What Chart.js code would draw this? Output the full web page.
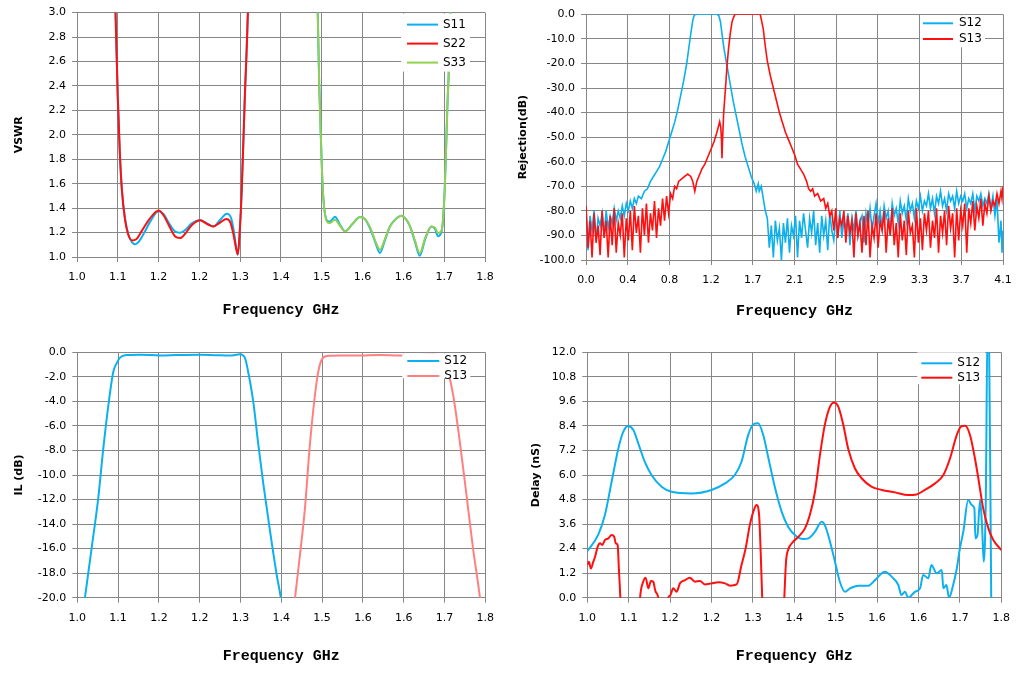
<!DOCTYPE html>
<html>
<head>
<meta charset="utf-8">
<script src="https://cdn.jsdelivr.net/npm/chart.js@4.4.1/dist/chart.umd.min.js"></script>
<style>
  html, body { margin: 0; padding: 0; background: #fff; }
  body { width: 1021px; height: 675px; position: relative; overflow: hidden; }
  canvas { position: absolute; }
</style>
</head>
<body>
<canvas id="vswr" width="505" height="320" style="left:0;top:0"></canvas>
<canvas id="rejection" width="516" height="322" style="left:505px;top:0"></canvas>
<canvas id="il" width="505" height="340" style="left:0;top:335px"></canvas>
<canvas id="delay" width="516" height="340" style="left:505px;top:335px"></canvas>
<script>
// ---- tick values and labels (labels are rounded the way the source sheet shows them)
const bandTicks = [1.0, 1.08, 1.16, 1.24, 1.32, 1.40, 1.48, 1.56, 1.64, 1.72, 1.80];
const bandTickLabels = ["1.0", "1.1", "1.2", "1.2", "1.3", "1.4", "1.5", "1.6", "1.6", "1.7", "1.8"];
const wideTicks = [0, 0.414, 0.828, 1.242, 1.656, 2.07, 2.484, 2.898, 3.312, 3.726, 4.14];
const wideTickLabels = ["0.0", "0.4", "0.8", "1.2", "1.7", "2.1", "2.5", "2.9", "3.3", "3.7", "4.1"];
const vswrTicks = [1.0, 1.2, 1.4, 1.6, 1.8, 2.0, 2.2, 2.4, 2.6, 2.8, 3.0];
const vswrTickLabels = ["1.0", "1.2", "1.4", "1.6", "1.8", "2.0", "2.2", "2.4", "2.6", "2.8", "3.0"];
const rejTicks = [-100, -90, -80, -70, -60, -50, -40, -30, -20, -10, 0];
const rejTickLabels = ["-100.0", "-90.0", "-80.0", "-70.0", "-60.0", "-50.0", "-40.0", "-30.0", "-20.0", "-10.0", "0.0"];
const ilTicks = [-20, -18, -16, -14, -12, -10, -8, -6, -4, -2, 0];
const ilTickLabels = ["-20.0", "-18.0", "-16.0", "-14.0", "-12.0", "-10.0", "-8.0", "-6.0", "-4.0", "-2.0", "0.0"];
const delayTicks = [0, 1.2, 2.4, 3.6, 4.8, 6.0, 7.2, 8.4, 9.6, 10.8, 12.0];
const delayTickLabels = ["0.0", "1.2", "2.4", "3.6", "4.8", "6.0", "7.2", "8.4", "9.6", "10.8", "12.0"];

// ---- VSWR  [GHz, VSWR]
const vswrS11 = [
  [1.068, 3.8], [1.0755, 3.0], [1.080, 2.3], [1.084, 1.85], [1.088, 1.55], [1.094, 1.32], [1.101, 1.18],
  [1.108, 1.12], [1.114, 1.105], [1.122, 1.13], [1.132, 1.20], [1.145, 1.30], [1.160, 1.376], [1.170, 1.35],
  [1.180, 1.28], [1.192, 1.21], [1.202, 1.198], [1.212, 1.22], [1.225, 1.275], [1.2415, 1.30], [1.255, 1.275],
  [1.2675, 1.25], [1.280, 1.30], [1.2938, 1.354], [1.302, 1.32], [1.308, 1.20], [1.312, 1.08], [1.3153, 1.02],
  [1.319, 1.20], [1.323, 1.55], [1.329, 2.30], [1.335, 3.0], [1.340, 4.0], [1.400, 8.0], [1.468, 4.0],
  [1.472, 3.0], [1.475, 2.4], [1.478, 2.0], [1.482, 1.55], [1.490, 1.30], [1.496, 1.29], [1.506, 1.33],
  [1.515, 1.27], [1.5255, 1.21], [1.540, 1.27], [1.555, 1.327], [1.5646, 1.31], [1.575, 1.23], [1.585, 1.12],
  [1.594, 1.033], [1.604, 1.14], [1.6136, 1.25], [1.625, 1.31], [1.636, 1.338], [1.645, 1.31], [1.653, 1.25],
  [1.663, 1.12], [1.672, 1.01], [1.683, 1.15], [1.695, 1.25], [1.702, 1.23], [1.708, 1.17], [1.715, 1.21],
  [1.721, 1.55], [1.726, 2.2], [1.7325, 3.0], [1.736, 4.0]
];
const vswrS22 = [
  [1.068, 3.8], [1.0755, 3.0], [1.080, 2.3], [1.084, 1.85], [1.088, 1.55], [1.094, 1.31], [1.100, 1.19],
  [1.1077, 1.136], [1.116, 1.145], [1.128, 1.22], [1.142, 1.31], [1.160, 1.381], [1.170, 1.34], [1.180, 1.26],
  [1.192, 1.17], [1.2023, 1.155], [1.212, 1.19], [1.225, 1.26], [1.2415, 1.30], [1.255, 1.27], [1.2675, 1.25],
  [1.280, 1.28], [1.293, 1.31], [1.301, 1.28], [1.307, 1.18], [1.312, 1.07], [1.3153, 1.02], [1.319, 1.20],
  [1.323, 1.55], [1.329, 2.30], [1.335, 3.0], [1.340, 4.0]
];
const vswrS33 = [
  [1.468, 4.0], [1.472, 3.0], [1.475, 2.4], [1.478, 2.0], [1.482, 1.55], [1.490, 1.29], [1.496, 1.278],
  [1.506, 1.305], [1.515, 1.26], [1.5255, 1.21], [1.540, 1.27], [1.555, 1.327], [1.5646, 1.31], [1.575, 1.24],
  [1.585, 1.13], [1.594, 1.06], [1.604, 1.15], [1.6136, 1.25], [1.625, 1.31], [1.636, 1.338], [1.645, 1.31],
  [1.653, 1.25], [1.663, 1.13], [1.672, 1.03], [1.683, 1.16], [1.695, 1.25], [1.702, 1.24], [1.708, 1.196],
  [1.715, 1.22], [1.721, 1.55], [1.726, 2.2], [1.7325, 3.0], [1.736, 4.0]
];

// ---- Rejection  [GHz, dB]
const rejS12 = [
  [0.00, -79], [0.02, -96], [0.04, -82], [0.06, -88], [0.08, -80], [0.10, -92], [0.12, -83], [0.14, -86],
  [0.16, -81], [0.18, -90], [0.20, -80], [0.22, -87], [0.24, -82], [0.26, -85], [0.28, -79], [0.30, -84],
  [0.32, -80], [0.34, -83], [0.36, -78], [0.38, -82], [0.40, -77], [0.42, -80], [0.44, -76], [0.46, -79],
  [0.48, -75], [0.50, -77], [0.52, -74], [0.55, -75], [0.58, -72], [0.61, -71], [0.64, -68], [0.67, -66],
  [0.70, -64], [0.73, -62], [0.76, -59], [0.79, -56], [0.82, -52], [0.85, -48], [0.88, -44], [0.91, -39],
  [0.94, -33], [0.97, -27], [1.00, -20], [1.02, -14], [1.04, -8], [1.06, -2.5], [1.075, -0.3], [1.10, 0],
  [1.20, 0], [1.30, 0], [1.318, -0.5], [1.335, -3], [1.35, -8], [1.37, -14], [1.40, -21], [1.43, -28],
  [1.46, -35], [1.49, -41], [1.52, -47], [1.55, -53], [1.58, -58], [1.61, -62], [1.64, -66], [1.67, -69],
  [1.69, -72], [1.71, -69], [1.72, -72], [1.74, -70], [1.76, -75], [1.78, -80],
  [1.80, -83], [1.82, -95], [1.84, -86], [1.86, -99], [1.88, -84], [1.90, -92], [1.92, -87], [1.94, -100],
  [1.96, -85], [1.98, -93], [2.00, -83], [2.02, -97], [2.04, -86], [2.06, -90], [2.08, -82], [2.10, -99],
  [2.12, -84], [2.14, -91], [2.16, -81], [2.18, -88], [2.20, -95], [2.22, -83], [2.24, -89], [2.26, -80],
  [2.28, -94], [2.30, -85], [2.32, -97], [2.34, -82], [2.36, -90], [2.38, -84], [2.40, -96], [2.42, -81],
  [2.44, -88], [2.46, -92], [2.48, -83], [2.50, -89], [2.52, -80], [2.54, -91], [2.56, -84], [2.58, -87],
  [2.60, -81], [2.62, -94], [2.64, -83], [2.66, -88], [2.68, -80], [2.70, -90], [2.72, -84], [2.74, -82],
  [2.76, -93], [2.78, -81], [2.80, -86], [2.82, -79], [2.84, -88], [2.86, -82], [2.88, -77], [2.90, -85],
  [2.92, -80], [2.94, -87], [2.96, -78], [2.98, -83], [3.00, -80], [3.02, -89], [3.04, -77], [3.06, -82],
  [3.08, -79], [3.10, -85], [3.12, -76], [3.14, -81], [3.16, -78], [3.18, -84], [3.20, -75], [3.22, -80],
  [3.24, -77], [3.26, -83], [3.28, -76], [3.30, -79], [3.32, -74], [3.34, -80], [3.36, -76], [3.38, -78],
  [3.40, -73], [3.42, -79], [3.44, -75], [3.46, -81], [3.48, -74], [3.50, -77], [3.52, -72], [3.54, -78],
  [3.56, -75], [3.58, -80], [3.60, -73], [3.62, -76], [3.64, -74], [3.66, -79], [3.68, -72], [3.70, -77],
  [3.72, -74], [3.74, -76], [3.76, -73], [3.78, -79], [3.80, -75], [3.82, -77], [3.84, -73], [3.86, -80],
  [3.88, -74], [3.90, -76], [3.92, -73], [3.94, -78], [3.96, -75], [3.98, -77], [4.00, -73], [4.02, -79],
  [4.04, -74], [4.06, -82], [4.08, -75], [4.10, -93], [4.12, -84], [4.13, -97], [4.14, -88]
];
const rejS13 = [
  [0.00, -78], [0.02, -95], [0.04, -84], [0.06, -99], [0.08, -81], [0.10, -93], [0.12, -86], [0.14, -98],
  [0.16, -80], [0.18, -91], [0.20, -84], [0.22, -99], [0.24, -82], [0.26, -94], [0.28, -79], [0.30, -97],
  [0.32, -85], [0.34, -90], [0.36, -81], [0.38, -99], [0.40, -83], [0.42, -92], [0.44, -80], [0.46, -96],
  [0.48, -78], [0.50, -89], [0.52, -82], [0.54, -97], [0.56, -79], [0.58, -90], [0.60, -77], [0.62, -93],
  [0.64, -81], [0.66, -88], [0.68, -76], [0.70, -91], [0.72, -79], [0.74, -86], [0.76, -75], [0.78, -84],
  [0.80, -74], [0.82, -81], [0.84, -73], [0.86, -75], [0.88, -70], [0.90, -71], [0.92, -68], [0.95, -67],
  [0.98, -66], [1.01, -65], [1.04, -66], [1.06, -68], [1.08, -72], [1.10, -68], [1.12, -66], [1.15, -63],
  [1.18, -61], [1.21, -58], [1.24, -55], [1.27, -52], [1.30, -48], [1.327, -43.7], [1.338, -46],
  [1.345, -51], [1.35, -58.6], [1.355, -52], [1.367, -40], [1.385, -30], [1.40, -21], [1.415, -14],
  [1.433, -7.7], [1.45, -3], [1.467, -1], [1.48, 0], [1.60, 0], [1.73, 0], [1.745, -3], [1.76, -6],
  [1.78, -13], [1.80, -19], [1.83, -25], [1.86, -30], [1.89, -35], [1.92, -40], [1.95, -44], [1.98, -48],
  [2.01, -51], [2.04, -54], [2.07, -57], [2.10, -61], [2.13, -63], [2.16, -65], [2.19, -68], [2.21, -71],
  [2.23, -72], [2.25, -71], [2.27, -74], [2.30, -73], [2.33, -76], [2.36, -75], [2.38, -79], [2.40, -77],
  [2.42, -82], [2.44, -80], [2.46, -88], [2.48, -79], [2.50, -91], [2.52, -83], [2.54, -86], [2.56, -80],
  [2.58, -93], [2.60, -82], [2.62, -89], [2.64, -84], [2.66, -99], [2.68, -81], [2.70, -90], [2.72, -85],
  [2.74, -97], [2.76, -82], [2.78, -94], [2.80, -80], [2.82, -99], [2.84, -86], [2.86, -91], [2.88, -81],
  [2.90, -95], [2.92, -84], [2.94, -88], [2.96, -80], [2.98, -97], [3.00, -83], [3.02, -90], [3.04, -79],
  [3.06, -94], [3.08, -85], [3.10, -99], [3.12, -81], [3.14, -92], [3.16, -84], [3.18, -98], [3.20, -80],
  [3.22, -89], [3.24, -86], [3.26, -99], [3.28, -79], [3.30, -93], [3.32, -83], [3.34, -96], [3.36, -81],
  [3.38, -88], [3.40, -80], [3.42, -95], [3.44, -84], [3.46, -91], [3.48, -79], [3.50, -97], [3.52, -82],
  [3.54, -89], [3.56, -80], [3.58, -94], [3.60, -78], [3.62, -87], [3.64, -81], [3.66, -99], [3.68, -79],
  [3.70, -92], [3.72, -80], [3.74, -86], [3.76, -77], [3.78, -97], [3.80, -79], [3.82, -85], [3.84, -76],
  [3.86, -88], [3.88, -78], [3.90, -83], [3.92, -75], [3.94, -86], [3.96, -77], [3.98, -81], [4.00, -74],
  [4.02, -80], [4.04, -76], [4.06, -78], [4.08, -73], [4.10, -77], [4.12, -72], [4.13, -75], [4.14, -70]
];

// ---- Insertion loss  [GHz, dB]
const ilS12 = [
  [1.012, -21], [1.015, -20.0], [1.028, -16.0], [1.041, -11.9], [1.051, -7.83], [1.061, -4.29],
  [1.0706, -1.58], [1.077, -0.90], [1.0837, -0.43], [1.0967, -0.22], [1.123, -0.19], [1.162, -0.27],
  [1.195, -0.22], [1.2405, -0.19], [1.273, -0.24], [1.2993, -0.27], [1.319, -0.16], [1.329, -0.49],
  [1.335, -1.58], [1.345, -4.02], [1.355, -7.55], [1.365, -10.8], [1.378, -14.6], [1.391, -18.15],
  [1.399, -20.0], [1.402, -21]
];
const ilS13 = [
  [1.424, -21], [1.427, -20.0], [1.4366, -16.5], [1.4464, -12.7], [1.456, -7.55], [1.466, -3.48],
  [1.4725, -1.58], [1.479, -0.63], [1.489, -0.30], [1.515, -0.27], [1.554, -0.27], [1.5935, -0.22],
  [1.6327, -0.27], [1.6654, -0.22], [1.698, -0.16], [1.7176, -0.49], [1.727, -1.58], [1.737, -3.48],
  [1.750, -7.28], [1.763, -11.6], [1.776, -16.0], [1.7895, -20.0], [1.792, -21]
];

// ---- Group delay  [GHz, nS]
const delayS12 = [
  [1.0, 2.28], [1.021, 3.07], [1.034, 4.04], [1.047, 5.67], [1.060, 7.30], [1.0696, 8.12], [1.079, 8.40],
  [1.089, 8.20], [1.0985, 7.55], [1.111, 6.65], [1.124, 6.0], [1.1436, 5.43], [1.163, 5.18], [1.2016, 5.10],
  [1.240, 5.27], [1.266, 5.59], [1.285, 6.0], [1.298, 6.65], [1.311, 7.96], [1.321, 8.48], [1.330, 8.53],
  [1.340, 7.96], [1.350, 6.82], [1.363, 5.35], [1.3755, 4.21], [1.388, 3.47], [1.401, 3.07], [1.417, 2.87],
  [1.427, 2.90], [1.440, 3.23], [1.453, 3.72], [1.459, 3.55], [1.469, 2.74], [1.4786, 1.76], [1.488, 0.78],
  [1.498, 0.29], [1.5076, 0.46], [1.524, 0.59], [1.543, 0.59], [1.556, 0.86], [1.575, 1.27], [1.588, 1.03],
  [1.601, 0.62], [1.607, 0.13], [1.614, 0.29], [1.620, 0.0], [1.633, 0.29], [1.643, 0.46], [1.649, 1.11],
  [1.659, 0.95], [1.665, 1.60], [1.675, 1.19], [1.685, 1.35], [1.688, 0.46], [1.694, 0.62], [1.699, 0.0],
  [1.707, 0.62], [1.714, 1.43], [1.720, 2.41], [1.7266, 3.23], [1.736, 4.78], [1.743, 4.53], [1.748, 4.37],
  [1.750, 2.90], [1.754, 3.07], [1.759, 4.78], [1.763, 3.39], [1.766, 1.76], [1.770, 4.7], [1.7735, 13.5],
  [1.776, 13.5], [1.7805, 0.0], [1.782, -1]
];
const delayS13 = [
  [1.0, 1.60], [1.003, 1.76], [1.007, 1.43], [1.0116, 1.76], [1.015, 2.0], [1.020, 2.49], [1.0245, 2.66],
  [1.029, 2.58], [1.034, 2.82], [1.0406, 2.90], [1.047, 3.07], [1.052, 2.98], [1.055, 2.66], [1.0586, 2.58],
  [1.061, 1.43], [1.0638, 0.0], [1.065, -1], [1.100, -1], [1.102, 0.0], [1.108, 0.78], [1.1127, 0.98],
  [1.118, 0.46], [1.123, 0.82], [1.1275, 0.78], [1.132, 0.29], [1.137, 0.0], [1.139, -1], [1.154, -1],
  [1.1565, 0.0], [1.160, 0.1], [1.166, 0.46], [1.1726, 0.29], [1.179, 0.70], [1.189, 0.86], [1.198, 0.98],
  [1.208, 0.78], [1.2177, 0.82], [1.227, 0.65], [1.240, 0.70], [1.253, 0.75], [1.266, 0.70], [1.2757, 0.59],
  [1.2886, 0.65], [1.298, 1.60], [1.306, 2.41], [1.314, 3.55], [1.323, 4.37], [1.327, 4.53], [1.332, 4.04],
  [1.335, 2.25], [1.338, 0.0], [1.339, -1], [1.379, -1], [1.3807, 0.0], [1.384, 1.76], [1.388, 2.33],
  [1.398, 2.74], [1.408, 2.98], [1.4206, 3.39], [1.430, 4.04], [1.440, 5.18], [1.4496, 6.98], [1.459, 8.45],
  [1.469, 9.34], [1.477, 9.54], [1.485, 9.34], [1.4947, 8.45], [1.504, 7.30], [1.517, 6.33], [1.530, 5.84],
  [1.549, 5.43], [1.569, 5.27], [1.5945, 5.15], [1.620, 5.02], [1.636, 5.05], [1.6525, 5.27], [1.672, 5.59],
  [1.688, 6.0], [1.701, 6.82], [1.714, 7.96], [1.722, 8.36], [1.730, 8.41], [1.7395, 7.96], [1.749, 6.82],
  [1.7556, 5.84], [1.765, 4.37], [1.775, 3.39], [1.7846, 2.82], [1.800, 2.33]
];

const BLUE = "#0cb0ee";
const RED = "#ff0f0f";
const GREEN = "#92d050";
const ROSE = "#ff8080";
const GRID = "#868686";
const tickFont = { family: "DejaVu Sans", size: 11 };
const yTitleFont = { family: "DejaVu Sans", size: 11, weight: "bold" };
const xTitleFont = { family: "Liberation Mono", size: 15, weight: "bold" };

// legend drawn inside the plot, white box on top of the grid
const boxLegend = {
  id: "boxLegend",
  afterDatasetsDraw(chart, args, o) {
    const { ctx, chartArea: a } = chart;
    ctx.save();
    ctx.fillStyle = "#fff";
    ctx.fillRect(a.right + o.box[0], a.top + o.box[1], o.box[2] - o.box[0], o.box[3] - o.box[1]);
    ctx.font = "12px 'DejaVu Sans'";
    ctx.textBaseline = "middle";
    chart.data.datasets.forEach((ds, i) => {
      const y = a.top + o.y + i * o.gap;
      ctx.strokeStyle = ds.borderColor;
      ctx.lineWidth = 2;
      ctx.beginPath();
      ctx.moveTo(a.right + o.line[0], y);
      ctx.lineTo(a.right + o.line[1], y);
      ctx.stroke();
      ctx.fillStyle = "#000";
      ctx.fillText(ds.label, a.right + o.text, y);
    });
    ctx.restore();
  },
};

function xAxis(min, max, values, labels, height) {
  return {
    type: "linear",
    min,
    max,
    afterBuildTicks: (s) => { s.ticks = values.map((v) => ({ value: v })); },
    afterFit: (s) => { s.height = height; },
    ticks: { callback: (v, i) => labels[i], autoSkip: false, maxRotation: 0, padding: 9, font: tickFont, color: "#000" },
    grid: { color: GRID, tickLength: 5 },
    border: { color: GRID },
    title: { display: true, text: "Frequency GHz", font: xTitleFont, color: "#000", padding: 0 },
  };
}

function yAxis(min, max, values, labels, width, title) {
  return {
    min,
    max,
    afterBuildTicks: (s) => { s.ticks = values.map((v) => ({ value: v })); },
    afterFit: (s) => { s.width = width; },
    ticks: { callback: (v, i) => labels[i], autoSkip: false, padding: 6, font: tickFont, color: "#000" },
    grid: { color: GRID, tickLength: 5 },
    border: { color: GRID },
    title: { display: true, text: title, font: yTitleFont, color: "#000", padding: 0 },
  };
}

function line(label, data, color, order, smooth, width) {
  return {
    label,
    data,
    borderColor: color,
    backgroundColor: color,
    borderWidth: width || 2,
    pointRadius: 0,
    fill: false,
    order,
    tension: 0,
    cubicInterpolationMode: smooth ? "monotone" : "default",
  };
}

function makeChart(id, datasets, scales, padding, legend) {
  return new Chart(document.getElementById(id), {
    type: "line",
    data: { datasets },
    options: {
      responsive: false,
      animation: false,
      layout: { padding },
      scales,
      plugins: { legend: { display: false }, tooltip: { enabled: false }, boxLegend: legend },
    },
    plugins: [boxLegend],
  });
}

makeChart(
  "vswr",
  [line("S11", vswrS11, BLUE, 3, true), line("S22", vswrS22, RED, 1, true), line("S33", vswrS33, GREEN, 2, true)],
  {
    x: xAxis(1.0, 1.8, bandTicks, bandTickLabels, 62),
    y: yAxis(1.0, 3.0, vswrTicks, vswrTickLabels, 64.6, "VSWR"),
  },
  { left: 12.4, top: 12, right: 20, bottom: 1 },
  { box: [-84, 1, -15, 59], line: [-78, -47], text: -42, y: 12, gap: 19 }
);

makeChart(
  "rejection",
  [line("S12", rejS12, BLUE, 2, false, 1.6), line("S13", rejS13, RED, 1, false, 1.6)],
  {
    x: xAxis(0, 4.14, wideTicks, wideTickLabels, 60.7),
    y: yAxis(-100, 0, rejTicks, rejTickLabels, 69.6, "Rejection(dB)"),
  },
  { left: 11.4, top: 14.3, right: 18, bottom: 1.3 },
  { box: [-83, 1, -18, 33], line: [-80, -50], text: -44, y: 9, gap: 15.7 }
);

makeChart(
  "il",
  [line("S12", ilS12, BLUE, 2, true), line("S13", ilS13, ROSE, 1, true)],
  {
    x: xAxis(1.0, 1.8, bandTicks, bandTickLabels, 68),
    y: yAxis(-20, 0, ilTicks, ilTickLabels, 64.9, "IL (dB)"),
  },
  { left: 12.4, top: 17.3, right: 19.7, bottom: 9.3 },
  { box: [-83, 1, -15, 26], line: [-78, -46], text: -41, y: 8.7, gap: 15 }
);

makeChart(
  "delay",
  [line("S12", delayS12, BLUE, 2, true), line("S13", delayS13, RED, 1, true)],
  {
    x: xAxis(1.0, 1.8, bandTicks, bandTickLabels, 67.3),
    y: yAxis(0, 12, delayTicks, delayTickLabels, 57.9, "Delay (nS)"),
  },
  { left: 24.4, top: 17.3, right: 19.7, bottom: 10 },
  { box: [-84, 0, -16, 32], line: [-80, -49], text: -44, y: 11, gap: 14.4 }
);
</script>
</body>
</html>
